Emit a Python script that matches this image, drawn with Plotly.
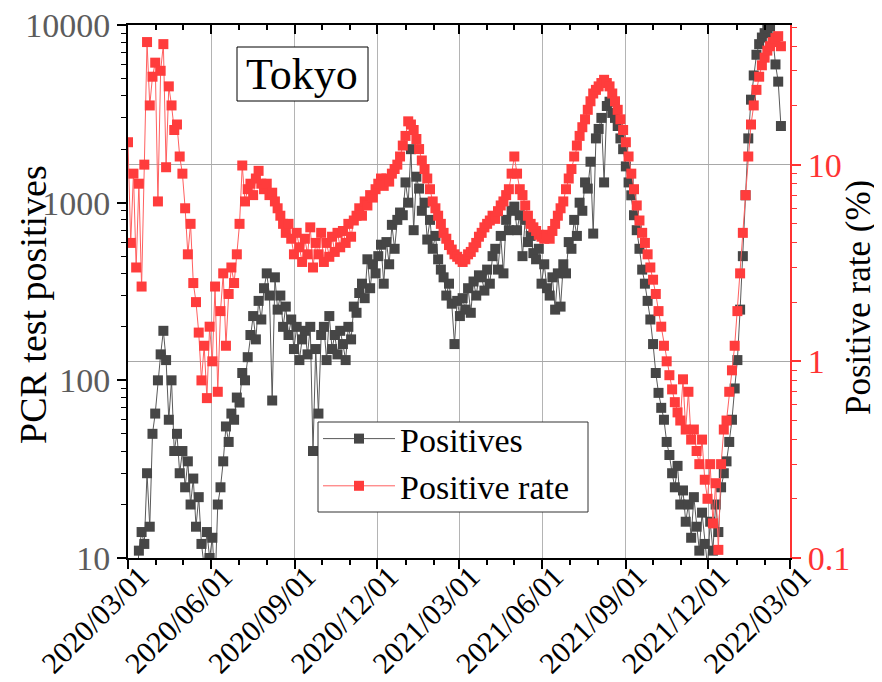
import pandas as pd
import plotly.graph_objects as go

# ---------------- data (every 3 days from 2020-03-01) ----------------
start_date = "2020-03-01"
step = "3D"

positives = [
    3, 4, 8, 6, 11, 14, 12, 30, 15, 50,
    65, 100, 140, 190, 130, 60, 100, 40, 50, 30,
    40, 25, 35, 20, 28, 15, 22, 12, 9, 14,
    10, 13, 7, 20, 25, 35, 55, 45, 65, 60,
    80, 75, 110, 100, 135, 180, 230, 170, 280, 220,
    330, 400, 300, 77, 380, 250, 300, 200, 260, 180,
    220, 150, 200, 130, 170, 190, 140, 200, 40, 150,
    65, 180, 200, 130, 230, 150, 180, 140, 190, 160,
    130, 200, 170, 260, 240, 310, 350, 290, 480, 330,
    450, 400, 500, 580, 350, 600, 450, 750, 550, 800,
    880, 850, 1300, 1000, 2000, 700, 1400, 1200, 900, 1000,
    620, 800, 550, 650, 480, 420, 380, 300, 350, 270,
    160, 280, 230, 290, 250, 330, 240, 360, 300, 390,
    380, 320, 420, 350, 500, 550, 420, 650, 400, 800,
    700, 900, 950, 700, 850, 500, 800, 600, 650, 520,
    480, 550, 350, 450, 330, 300, 380, 250, 400, 260,
    450, 400, 600, 550, 800, 650, 1000, 900, 1300, 1200,
    1700, 670, 2300, 2600, 3000, 1300, 3500, 3700, 3200, 3000,
    2700, 2300, 2000, 1600, 1300, 1100, 850, 700, 550, 420,
    350, 280, 220, 160, 110, 85, 70, 60, 45, 38,
    30, 25, 33, 20, 24, 16, 20, 13, 22, 15,
    11, 18, 12, 9, 16, 11, 20, 14, 25, 30,
    35, 45, 60, 90, 130, 250, 500, 1100, 2300, 3800,
    5200, 6800, 7800, 8500, 9000, 9500, 9800, 8500, 6000, 4800,
    2700,
]

positive_rate = [
    13, 4, 9, 3, 8, 2.4, 10, 42, 20, 28,
    33, 6.5, 30, 41, 9.7, 25, 20, 15, 16, 11,
    9, 6, 3.5, 5, 2.5, 2, 1.4, 0.8, 1.2, 0.65,
    1.5, 1.0, 2.4, 0.7, 1.8, 2.8, 1.2, 2.2, 3, 2.5,
    3.5, 5, 9.9, 6.5, 7.5, 8, 7, 8.5, 9.3, 8,
    7.5, 8, 7, 7.2, 6.5, 6, 5.5, 5, 4.5, 5,
    4.2, 3.5, 4.5, 3.8, 3.2, 4.2, 3.5, 4.8, 3, 4,
    3.5, 4.5, 3.2, 4, 3.4, 4.3, 3.6, 4.5, 3.8, 4.6,
    4, 5, 4.3, 5.2, 5.5, 6, 5.5, 6.5, 6.2, 7,
    6.8, 7.5, 8, 8.5, 7.8, 8.5, 8.2, 9, 9.5, 10,
    11, 12.5, 14, 16.6, 16, 15, 13.5, 12, 10.5, 9.5,
    8.5, 7.5, 6.5, 6, 5.5, 5, 4.5, 4.2, 3.9, 3.7,
    3.5, 3.4, 3.3, 3.2, 3.3, 3.5, 3.6, 3.8, 4, 4.3,
    4.5, 4.8, 5, 5.2, 5.5, 5.3, 5.8, 6.2, 6.5, 7,
    7.5, 9, 11, 9, 7.5, 7, 6.2, 5.5, 5, 4.8,
    4.6, 4.4, 4.3, 4.2, 4.4, 4.2, 4.6, 5, 5.5, 6,
    6.5, 7.5, 8.5, 9.5, 11, 12.5, 14, 15.5, 17, 19,
    21, 23, 24, 25, 26, 27, 26, 25, 23, 21,
    19, 17, 15, 13, 11, 9, 7.5, 6.2, 5.2, 4.5,
    4, 3.5, 3, 2.6, 2.2, 1.8, 1.5, 1.2, 1.0, 0.85,
    0.72, 0.62, 0.55, 0.5, 0.81, 0.45, 0.7, 0.4, 0.45, 0.35,
    0.3, 0.4, 0.25, 0.2, 0.3, 0.15, 0.24, 0.11, 0.3, 0.45,
    0.5, 0.7, 0.9, 1.2, 1.8, 2.8, 4.5, 7, 11, 16,
    20, 24, 28, 32, 35, 38, 40, 42, 44, 45,
    40,
]

dates = pd.date_range(start_date, periods=len(positives), freq=step)

x_tick_dates = ["2020-03-01", "2020-06-01", "2020-09-01", "2020-12-01", "2021-03-01",
                "2021-06-01", "2021-09-01", "2021-12-01", "2022-03-01"]
x_tick_labels = ["2020/03/01", "2020/06/01", "2020/09/01", "2020/12/01", "2021/03/01",
                 "2021/06/01", "2021/09/01", "2021/12/01", "2022/03/01"]
y_tick_vals = [10, 100, 1000, 10000]
y2_tick_vals = [0.1, 1, 10]
y2_tick_text = ["0.1", "1", "10"]

# ---------------- styling ----------------
FONT = "Liberation Serif, Times New Roman, serif"
BLACK_S = "#464646"
RED_S = "#ff3c3c"
RED_AX = "#ff3333"

# the page body has an 8px margin, so the figure is 8px smaller
W, H = 874, 674
L, R, T, B = 120, 92, 17, 124
PLOT_X0, PLOT_X1, PLOT_Y0, PLOT_Y1 = 128, 790, 25, 558  # page pixels


def px(xp):
    return (xp - PLOT_X0) / (PLOT_X1 - PLOT_X0)


def py(yp):
    return (PLOT_Y1 - yp) / (PLOT_Y1 - PLOT_Y0)


minor_left = [m * 10 ** e for e in (1, 2, 3) for m in range(2, 10)]
minor_right = [m * 10 ** e for e in (-1, 0) for m in range(2, 10)] + [20, 30, 40, 50]

fig = go.Figure()
fig.add_trace(go.Scatter(
    x=dates, y=positives, name="Positives", mode="lines+markers",
    line=dict(color="#5a5a5a", width=1),
    marker=dict(symbol="square", size=10, color=BLACK_S),
))
fig.add_trace(go.Scatter(
    x=dates, y=positive_rate, name="Positive rate", mode="lines+markers", yaxis="y2",
    line=dict(color="#ff6060", width=1),
    marker=dict(symbol="square", size=10, color=RED_S),
))
# invisible trace to activate the top (mirror) axis with inward ticks
fig.add_trace(go.Scatter(x=[dates[0]], y=[None], xaxis="x2", showlegend=False,
                         hoverinfo="skip", mode="markers"))

fig.update_layout(
    width=W, height=H,
    margin=dict(l=L, r=R, t=T, b=B, autoexpand=False),
    paper_bgcolor="white", plot_bgcolor="white",
    font=dict(family=FONT, color="black"),
    xaxis=dict(
        type="date", range=["2020-03-01", "2022-03-01"],
        tickmode="array", tickvals=x_tick_dates, ticktext=x_tick_labels,
        tickangle=-45, tickfont=dict(family=FONT, size=30, color="black"),
        ticklabelstandoff=-22, ticklabelshift=12,
        ticks="outside", ticklen=9, tickwidth=2, tickcolor="black",
        showline=True, linecolor="black", linewidth=2, mirror=True,
        showgrid=True, gridcolor="#b4b4b4", gridwidth=1, zeroline=False,
        minor=dict(ticks="outside", ticklen=5, tickwidth=2, tickcolor="black",
                   dtick="M1", tick0="2020-03-01", showgrid=False),
    ),
    xaxis2=dict(
        type="date", overlaying="x", side="top", matches="x",
        tickmode="array", tickvals=x_tick_dates, showticklabels=False,
        ticks="inside", ticklen=9, tickwidth=2, tickcolor="black",
        showline=False, showgrid=False, zeroline=False,
        minor=dict(ticks="inside", ticklen=5, tickwidth=2, tickcolor="black",
                   dtick="M1", tick0="2020-03-01", showgrid=False),
    ),
    yaxis=dict(
        type="log", range=[1, 4],
        tickmode="array", tickvals=y_tick_vals, ticktext=[str(v) for v in y_tick_vals],
        tickfont=dict(family=FONT, size=34, color="#5c5c5c"),
        ticklabeloverflow="allow",
        ticks="outside", ticklen=9, tickwidth=2, tickcolor="black",
        showline=True, linecolor="black", linewidth=2,
        showgrid=False, zeroline=False,
        minor=dict(ticks="outside", ticklen=5, tickwidth=1, tickcolor="black",
                   tickmode="array", tickvals=minor_left, showgrid=False),
    ),
    yaxis2=dict(
        type="log", range=[-1, 1.71], overlaying="y", side="right",
        tickmode="array", tickvals=y2_tick_vals, ticktext=y2_tick_text,
        tickfont=dict(family=FONT, size=34, color=RED_AX),
        ticklabeloverflow="allow",
        ticks="outside", ticklen=9, tickwidth=2, tickcolor=RED_AX,
        showline=True, linecolor=RED_AX, linewidth=2,
        showgrid=True, gridcolor="#a8a8a8", gridwidth=1, zeroline=False,
        minor=dict(ticks="outside", ticklen=5, tickwidth=1, tickcolor=RED_AX,
                   tickmode="array", tickvals=minor_right, showgrid=False),
    ),
    legend=dict(
        x=px(318), y=py(410), xanchor="left", yanchor="top",
        bgcolor="rgba(0,0,0,0)", borderwidth=0,
        font=dict(family=FONT, size=34, color="black"),
        itemwidth=72, tracegroupgap=0,
    ),
    shapes=[
        # frame of the "Tokyo" label
        dict(type="rect", xref="paper", yref="paper",
             x0=px(237), x1=px(368), y0=py(101), y1=py(47),
             line=dict(color="black", width=1), fillcolor="white", layer="above"),
        # frame behind the legend
        dict(type="rect", xref="paper", yref="paper",
             x0=px(318), x1=px(588), y0=py(512), y1=py(422),
             line=dict(color="#333333", width=1), fillcolor="white", layer="above"),
    ],
    annotations=[
        dict(text="Tokyo", xref="paper", yref="paper", x=px(302), y=py(74),
             xanchor="center", yanchor="middle",
             showarrow=False, font=dict(family=FONT, size=44, color="black")),
        dict(text="PCR test positives", xref="paper", yref="paper", x=px(33), y=py(305),
             xanchor="center", yanchor="middle",
             showarrow=False, textangle=-90, font=dict(family=FONT, size=38, color="black")),
        dict(text="Positive rate (%)", xref="paper", yref="paper", x=px(858), y=py(298),
             xanchor="center", yanchor="middle",
             showarrow=False, textangle=-90, font=dict(family=FONT, size=35, color="black")),
    ],
    showlegend=True,
)

fig.write_html("out.html")
